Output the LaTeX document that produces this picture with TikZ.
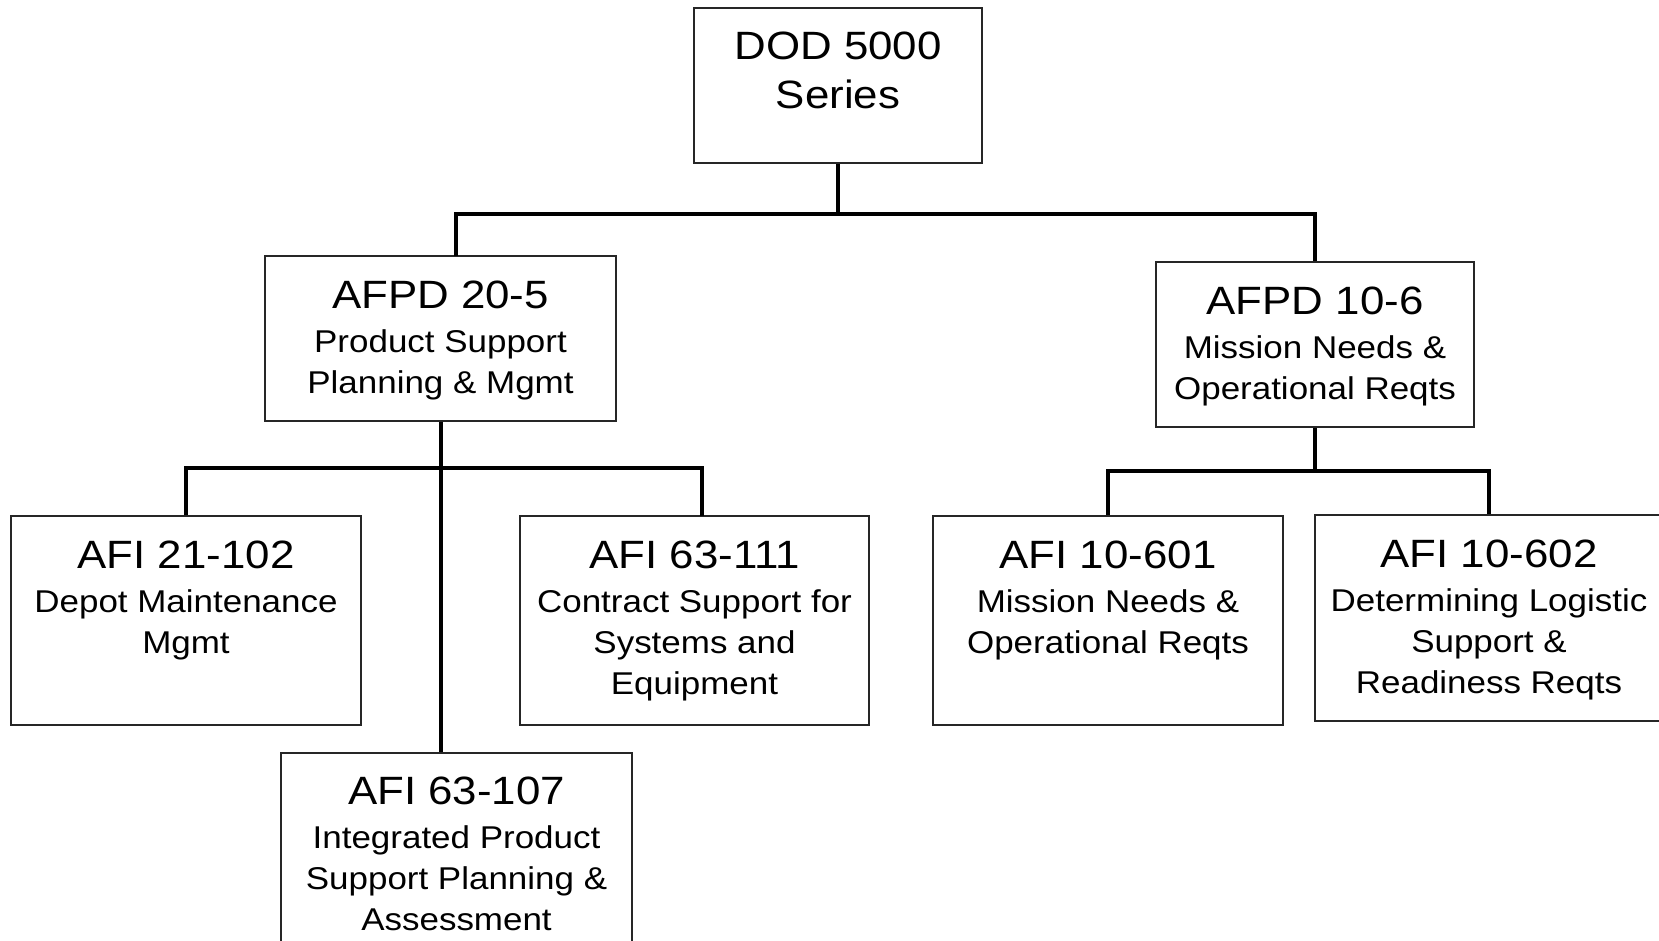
\documentclass[tikz,border=0pt]{standalone}
\usepackage{fontspec}
\setmainfont[FakeStretch=1.11]{Liberation Sans}
\newcommand\ttlf{\fontsize{23.7}{29.4}\selectfont}
\newcommand\subf{\fontsize{18.9}{24.6}\selectfont}
\newcommand\mybox[5]{\node[boxsty, minimum width={(#4-#2)*0.6pt}, minimum height={(#5-#3)*0.6pt}] (#1) at ({(#2+#4)/2},{(#3+#5)/2}) {};}
\tikzset{
  boxsty/.style={draw=black!85, line width=0.9pt, inner sep=0pt, rectangle},
  txt/.style={anchor=base, inner sep=0pt, font=\subf},
  conn/.style={line width=2.4pt, black}
}
\begin{document}
\begin{tikzpicture}[x=0.6pt, y=-0.6pt]
\useasboundingbox (0,0) rectangle (1659,940);
\clip (0,0) rectangle (1659,940);
% boxes
\mybox{dod}{694}{8}{982}{163}
\mybox{a20}{265}{256}{616}{421}
\mybox{a106}{1156}{262}{1474}{427}
\mybox{a21}{11}{516}{361}{725}
\mybox{a111}{520}{516}{869}{725}
\mybox{a107}{281}{753}{632}{960}
\mybox{a601}{933}{516}{1283}{725}
\mybox{a602}{1315}{515}{1663}{721}
% texts
\node[txt, font=\ttlf] (dodt) at (838,59) {\begin{tabular}[t]{@{}c@{}}DOD 5000\\Series\end{tabular}};
\node[txt] (a20t) at (440.5,308) {\begin{tabular}[t]{@{}c@{}}{\ttlf AFPD 20-5}\\[1.8pt]Product Support\\Planning \& Mgmt\end{tabular}};
\node[txt] (a106t) at (1315,314) {\begin{tabular}[t]{@{}c@{}}{\ttlf AFPD 10-6}\\[1.8pt]Mission Needs \&\\Operational Reqts\end{tabular}};
\node[txt] (a21t) at (186,568) {\begin{tabular}[t]{@{}c@{}}{\ttlf AFI 21-102}\\[1.8pt]Depot Maintenance\\Mgmt\end{tabular}};
\node[txt] (a111t) at (694.5,568) {\begin{tabular}[t]{@{}c@{}}{\ttlf AFI 63-111}\\[1.8pt]Contract Support for\\Systems and\\Equipment\end{tabular}};
\node[txt] (a107t) at (456.5,804) {\begin{tabular}[t]{@{}c@{}}{\ttlf AFI 63-107}\\[1.8pt]Integrated Product\\Support Planning \&\\Assessment\end{tabular}};
\node[txt] (a601t) at (1108,568) {\begin{tabular}[t]{@{}c@{}}{\ttlf AFI 10-601}\\[1.8pt]Mission Needs \&\\Operational Reqts\end{tabular}};
\node[txt] (a602t) at (1489,567) {\begin{tabular}[t]{@{}c@{}}{\ttlf AFI 10-602}\\[1.8pt]Determining Logistic\\Support \&\\Readiness Reqts\end{tabular}};
% connector coordinates
\coordinate (topbus) at (838,214);
\coordinate (a20in) at (456,256);
\coordinate (lbus) at (440.5,468);
\coordinate (a111in) at (702,516);
\coordinate (rbus) at (1315,471);
% connectors
\draw[conn] (dod.south) -- (topbus);
\draw[conn] (a20in) |- (topbus) -| (a106.north);
\draw[conn] (a20.south) -- (a20.south |- a107.north);
\draw[conn] (a21.north) |- (lbus) -| (a111in);
\draw[conn] (a106.south) -- (rbus);
\draw[conn] (a601.north) |- (rbus) -| (a602.north);
\end{tikzpicture}
\end{document}
